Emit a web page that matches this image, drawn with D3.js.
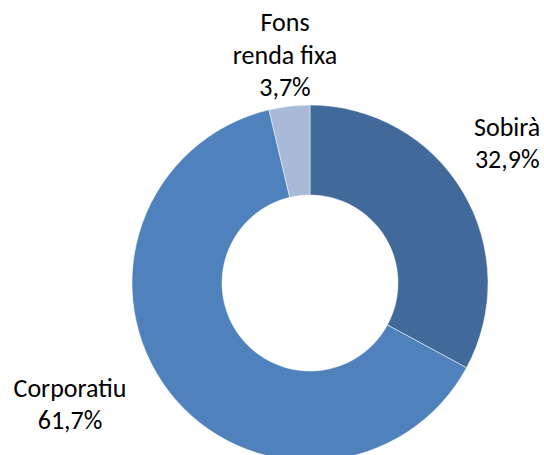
<!DOCTYPE html>
<html>
<head>
<meta charset="utf-8">
<script src="https://cdn.jsdelivr.net/npm/d3@7"></script>
<style>
  body { margin: 0; background: #fff; }
  svg { display: block; }
  .lbl { font-family: Carlito, Calibri, Lato, sans-serif; font-size: 26px; fill: #000; }
</style>
</head>
<body>
<div id="chart"></div>
<script>
// slice shares as drawn (percent), label lines as printed
const categories = ["Sobirà", "Corporatiu", "Fons renda fixa"];
const shares = [32.9, 63.4, 3.7];
const pctLabels = ["32,9%", "61,7%", "3,7%"];
const nameLines = [["Sobirà"], ["Corporatiu"], ["Fons", "renda fixa"]];
const colors = ["#416a9b", "#4f81bd", "#a9bad9"];

const width = 544, height = 455;
const cx = 310, cy = 283;
const outerR = 178, innerR = 88;
const labelR = 233;
const lineH = 32.5;
// Excel "best fit" moved the labels a little
const labelNudge = [[-3, -21], [-55, -21], [2, 3]];

const data = categories.map((c, i) => ({
  name: c, value: shares[i], lines: nameLines[i].concat(pctLabels[i]), color: colors[i], i
}));

const svg = d3.select("#chart").append("svg")
  .attr("width", width)
  .attr("height", height);

const g = svg.append("g").attr("transform", `translate(${cx},${cy})`);

const pie = d3.pie().sort(null).value((d) => d.value);
const arc = d3.arc().innerRadius(innerR).outerRadius(outerR);
const labelArc = d3.arc().innerRadius(labelR).outerRadius(labelR);

const arcs = pie(data);

g.selectAll("path")
  .data(arcs)
  .join("path")
  .attr("d", arc)
  .attr("fill", (d) => d.data.color)
  .attr("stroke", "#ffffff")
  .attr("stroke-opacity", 0.6)
  .attr("stroke-width", 0.8);

const labels = g.selectAll("text.lbl")
  .data(arcs)
  .join("text")
  .attr("class", "lbl")
  .attr("text-anchor", "middle")
  .attr("transform", (d) => {
    const [x, y] = labelArc.centroid(d);
    const [nx, ny] = labelNudge[d.data.i];
    return `translate(${x + nx},${y + ny})`;
  });

labels.selectAll("tspan")
  .data((d) => d.data.lines.map((t, k, arr) => ({ t, k, n: arr.length })))
  .join("tspan")
  .attr("x", 0)
  .attr("y", (d) => (d.k - (d.n - 1) / 2) * lineH)
  .attr("dy", "0.35em")
  .text((d) => d.t);
</script>
</body>
</html>
